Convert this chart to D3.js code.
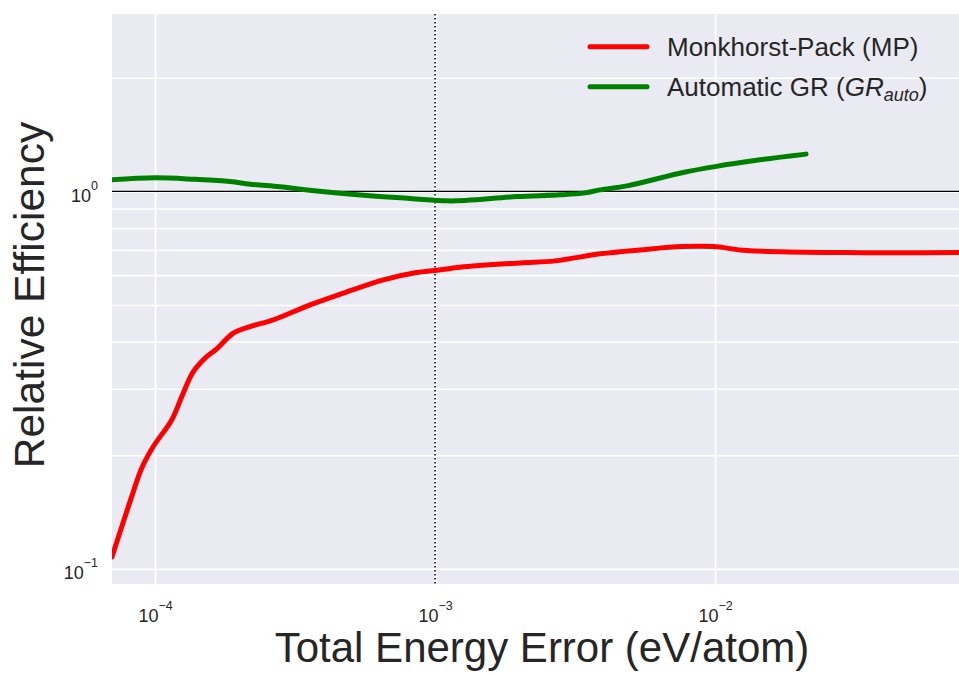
<!DOCTYPE html>
<html>
<head>
<meta charset="utf-8">
<script src="https://cdn.jsdelivr.net/npm/d3@7"></script>
<style>
  html, body { margin: 0; padding: 0; background: #ffffff; }
  svg { display: block; }
  text { font-family: "Liberation Sans", Arial, sans-serif; fill: #262626; }
</style>
</head>
<body>
<svg id="chart" width="959" height="673"></svg>
<script>
// Energy error (eV/atom) vs. relative efficiency for two k-point schemes
const mpError = [7.02e-5, 8.34e-5, 8.96e-5, 9.86e-5, 1.147e-4, 1.246e-4, 1.370e-4, 1.530e-4, 1.661e-4,
  1.904e-4, 2.184e-4, 2.646e-4, 3.578e-4, 4.705e-4, 6.536e-4, 8.604e-4, 1.0e-3, 1.228e-3, 2.012e-3,
  2.683e-3, 3.884e-3, 5.397e-3, 7.686e-3, 9.84e-3, 1.301e-2, 2.865e-2, 7.43e-2];
const mpEfficiency = [0.1076, 0.159, 0.1848, 0.2109, 0.2481, 0.286, 0.3331, 0.365, 0.3826,
  0.421, 0.4384, 0.4566, 0.5004, 0.5375, 0.5829, 0.6094, 0.6169, 0.6298, 0.6465,
  0.6545, 0.6832, 0.6998, 0.7141, 0.7141, 0.697, 0.6885, 0.6885];

const grError = [7.02e-5, 1.0e-4, 1.389e-4, 1.853e-4, 2.184e-4, 2.795e-4, 3.49e-4, 5.715e-4, 8.14e-4,
  1.104e-3, 1.301e-3, 1.963e-3, 2.795e-3, 3.433e-3, 3.884e-3, 4.85e-3, 7.686e-3, 1.0e-2, 1.448e-2, 2.113e-2];
const grEfficiency = [1.073, 1.086, 1.076, 1.062, 1.045, 1.028, 1.009, 0.9747, 0.958,
  0.9437, 0.9466, 0.9688, 0.9789, 0.9908, 1.009, 1.034, 1.122, 1.163, 1.212, 1.255];

const xMajorTicks = [1e-4, 1e-3, 1e-2];
const yMajorTicks = [0.1, 1];
const yMinorTicks = [0.2, 0.3, 0.4, 0.5, 0.6, 0.7, 0.8, 0.9, 2];
const referenceEfficiency = 1;
const targetError = 1e-3;

const seriesNames = ["Monkhorst-Pack (MP)", "Automatic GR"];
const seriesColors = ["#ff0000", "#008000"];

const margin = { left: 112, top: 14, right: 0, bottom: 89 };
const W = 959, H = 673;
const iw = W - margin.left - margin.right;
const ih = H - margin.top - margin.bottom;

const svg = d3.select("#chart");
const g = svg.append("g").attr("transform", `translate(${margin.left},${margin.top})`);

const x = d3.scaleLog().domain([7.02e-5, 7.43e-2]).range([0, iw]);
const y = d3.scaleLog().domain([0.0912, 2.95]).range([ih, 0]);

g.append("rect").attr("width", iw).attr("height", ih).attr("fill", "#EAEAF2");

g.append("clipPath").attr("id", "plotClip")
  .append("rect").attr("width", iw).attr("height", ih);

// grid lines
const gridY = g.append("g")
  .call(d3.axisLeft(y).tickValues(yMajorTicks.concat(yMinorTicks)).tickSize(-iw).tickFormat(""));
gridY.select(".domain").remove();
gridY.selectAll("line").attr("stroke", "#ffffff").attr("stroke-width", 1.6);

const gridX = g.append("g").attr("transform", `translate(0,${ih})`)
  .call(d3.axisBottom(x).tickValues(xMajorTicks).tickSize(-ih).tickFormat(""));
gridX.select(".domain").remove();
gridX.selectAll("line").attr("stroke", "#ffffff").attr("stroke-width", 1.8);

// tick labels with superscript exponents
function powerLabel(sel) {
  sel.each(function (d) {
    const t = d3.select(this);
    const e = Math.round(Math.log10(d));
    t.text(null);
    t.append("tspan").text("10");
    t.append("tspan").attr("dy", "-12").attr("font-size", "12.5px")
      .text(e < 0 ? "\u2212" + Math.abs(e) : String(e));
  });
}

const xAxis = g.append("g").attr("transform", `translate(0,${ih})`)
  .call(d3.axisBottom(x).tickValues(xMajorTicks).tickSize(0).tickPadding(0));
xAxis.select(".domain").remove();
xAxis.selectAll("text").attr("font-size", "18px").attr("fill", "#262626")
  .style("font-family", "Liberation Sans, Arial, sans-serif")
  .attr("y", 37.5).attr("dy", null)
  .attr("text-anchor", "middle").call(powerLabel);

const yAxis = g.append("g")
  .call(d3.axisLeft(y).tickValues(yMajorTicks).tickSize(0).tickPadding(14));
yAxis.select(".domain").remove();
yAxis.selectAll("text").attr("font-size", "18px").attr("fill", "#262626")
  .style("font-family", "Liberation Sans, Arial, sans-serif")
  .attr("dy", "10px").call(powerLabel);

const plot = g.append("g").attr("clip-path", "url(#plotClip)");

// reference lines
plot.append("line")
  .attr("x1", 0).attr("x2", iw)
  .attr("y1", y(referenceEfficiency)).attr("y2", y(referenceEfficiency))
  .attr("stroke", "#000000").attr("stroke-width", 1.3);
plot.append("line")
  .attr("x1", x(targetError)).attr("x2", x(targetError))
  .attr("y1", 0).attr("y2", ih)
  .attr("stroke", "#000000").attr("stroke-width", 1.5)
  .attr("stroke-dasharray", "1.5,2.5");

const line = d3.line()
  .x(d => x(d[0])).y(d => y(d[1]))
  .curve(d3.curveCatmullRom.alpha(0.5));

const series = [
  d3.zip(mpError, mpEfficiency),
  d3.zip(grError, grEfficiency)
];
series.forEach((pts, i) => {
  plot.append("path").datum(pts)
    .attr("d", line)
    .attr("fill", "none")
    .attr("stroke", seriesColors[i])
    .attr("stroke-width", 5)
    .attr("stroke-linecap", "round")
    .attr("stroke-linejoin", "round");
});

// legend
const legend = g.append("g").attr("transform", "translate(478,32.7)");
seriesNames.forEach((name, i) => {
  const row = legend.append("g").attr("transform", `translate(0,${i * 40})`);
  row.append("line").attr("x1", 0).attr("x2", 57).attr("y1", 0).attr("y2", 0)
    .attr("stroke", seriesColors[i]).attr("stroke-width", 5).attr("stroke-linecap", "round");
  const t = row.append("text").attr("x", 77).attr("y", 9).attr("font-size", "26px");
  if (i === 0) {
    t.text(name);
  } else {
    t.append("tspan").text(name + " (");
    t.append("tspan").attr("font-style", "italic").text("GR");
    t.append("tspan").attr("font-style", "italic").attr("font-size", "18px").attr("dy", "5").text("auto");
    t.append("tspan").attr("dy", "-5").text(")");
  }
});

// axis titles
svg.append("text")
  .attr("x", margin.left + 430).attr("y", 662)
  .attr("text-anchor", "middle").attr("font-size", "42px")
  .text("Total Energy Error (eV/atom)");

svg.append("text")
  .attr("transform", `translate(44,${margin.top + 281}) rotate(-90)`)
  .attr("text-anchor", "middle").attr("font-size", "42.5px")
  .text("Relative Efficiency");
</script>
</body>
</html>
